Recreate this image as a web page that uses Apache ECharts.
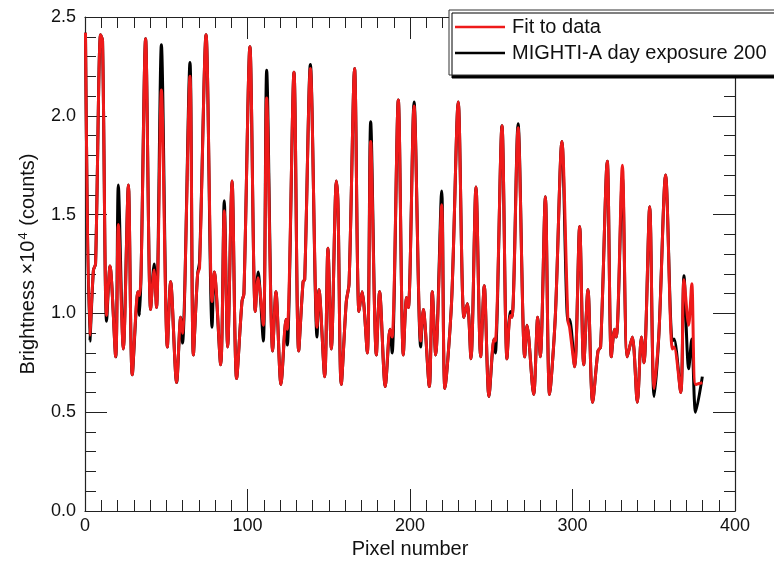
<!DOCTYPE html>
<html>
<head>
<meta charset="utf-8">
<script src="https://cdn.jsdelivr.net/npm/echarts@6/dist/echarts.min.js"></script>
<style>
html,body{margin:0;padding:0;background:#fff;}
#chart{width:774px;height:566px;}
</style>
</head>
<body>
<div id="chart"></div>
<script>
// Pixel positions of key samples (pixel number)
const pixels = [0.3,3.0,5.2,6.5,9.6,10.8,13.3,15.4,18.9,20.5,23.6,26.7,29.1,32.6,33.5,34.5,37.3,40.4,42.5,44.0,47.0,50.7,52.7,56.4,58.9,60.0,64.6,66.7,69.3,70.5,74.5,78.2,79.6,83.5,85.7,87.8,90.5,93.3,96.6,97.8,101.5,104.8,106.5,109.7,111.8,115.5,117.5,120.6,123.7,124.5,128.6,131.5,134.2,135.2,138.7,142.8,144.0,147.5,149.5,151.6,154.7,155.7,157.7,160.8,162.5,165.9,168.6,170.5,173.7,175.8,179.3,181.3,184.8,187.7,189.0,192.8,195.9,197.9,199.0,202.5,206.6,208.2,211.9,213.7,215.8,219.5,221.5,225.6,229.7,233.2,235.3,237.5,240.6,243.5,245.7,248.6,251.7,252.5,256.6,259.7,261.7,262.8,266.5,270.6,272.0,276.1,278.6,280.2,283.3,285.9,289.4,293.5,297.2,298.2,301.3,304.4,306.9,309.5,312.4,315.7,317.3,321.4,323.9,325.9,327.0,330.7,333.7,336.8,339.9,342.4,344.0,347.5,350.2,353.2,357.3,361.4,362.5,366.6,368.6,371.5,373.4,375.8,379.9];
// MIGHTI-A day exposure 200 (brightness x10^4 counts)
const measured = [2.42,0.86,1.22,1.25,2.41,2.38,0.96,1.24,0.78,1.65,0.82,1.65,0.69,1.11,0.99,1.20,2.39,1.02,1.25,1.03,2.36,0.83,1.16,0.65,0.98,0.85,2.27,0.79,1.20,1.26,2.41,0.93,1.21,0.74,1.57,0.83,1.67,0.67,1.06,1.10,2.35,1.01,1.21,0.86,2.23,0.81,1.11,0.64,0.97,0.84,2.22,0.81,1.16,1.17,2.26,0.88,1.12,0.68,1.33,0.82,1.67,1.55,0.64,1.06,1.15,2.24,1.01,1.11,0.80,1.97,0.79,1.11,0.63,0.92,0.80,2.08,0.79,1.08,1.03,2.07,0.83,1.02,0.63,1.11,0.79,1.62,0.62,1.06,2.07,0.98,1.05,0.77,1.64,0.78,1.14,0.58,0.87,0.80,1.95,0.77,1.01,0.98,1.96,0.78,0.94,0.59,0.98,0.78,1.59,0.59,0.98,1.87,0.96,0.97,0.73,1.44,0.74,1.12,0.55,0.81,0.83,1.77,0.78,0.92,0.88,1.69,0.78,0.88,0.55,0.88,0.75,1.54,0.58,0.90,1.70,0.86,0.87,0.60,1.19,0.72,0.87,0.50,0.68];
// Fit to data
const fitted = [2.42,0.89,1.22,1.25,2.41,2.38,0.99,1.24,0.78,1.45,0.82,1.65,0.69,1.11,1.09,1.20,2.39,1.02,1.22,1.03,2.13,0.83,1.16,0.65,0.98,0.90,2.20,0.79,1.20,1.23,2.41,1.06,1.21,0.74,1.52,0.83,1.67,0.67,1.06,1.10,2.35,1.01,1.18,0.94,2.09,0.81,1.11,0.64,0.97,0.92,2.22,0.81,1.16,1.17,2.24,0.93,1.12,0.68,1.33,0.82,1.67,1.55,0.64,1.06,1.15,2.24,1.01,1.11,0.80,1.87,0.79,1.11,0.63,0.92,0.88,2.08,0.79,1.08,1.03,2.05,0.86,1.02,0.63,1.11,0.79,1.55,0.62,1.06,2.07,0.98,1.05,0.77,1.64,0.78,1.14,0.58,0.87,0.86,1.95,0.77,0.99,0.98,1.94,0.78,0.94,0.59,0.98,0.78,1.59,0.59,0.98,1.87,0.96,0.93,0.73,1.44,0.74,1.12,0.55,0.81,0.83,1.77,0.78,0.92,0.88,1.75,0.78,0.88,0.55,0.88,0.75,1.54,0.62,0.90,1.70,0.82,0.83,0.60,1.17,0.94,1.15,0.64,0.65];
const xTicks = [0,100,200,300,400];
const yTicks = [0.0,0.5,1.0,1.5,2.0,2.5];

const FONT = '"Liberation Sans", Arial, Helvetica, sans-serif';
const measuredPts = pixels.map((p,i)=>[p, measured[i]]);
const fittedPts = pixels.map((p,i)=>[p, fitted[i]]);

const tickCommon = {inside:true, length:22, lineStyle:{color:'#222', width:1}};
const minorCommon = {show:true, length:11, lineStyle:{color:'#222', width:1}};
const lineCommon = {show:true, onZero:false, lineStyle:{color:'#222', width:1.2}};

const chart = echarts.init(document.getElementById('chart'), null, {renderer:'canvas'});
chart.setOption({
  animation:false,
  backgroundColor:'#fff',
  grid:{left:85, right:39, top:17, bottom:55},
  legend:{
    left:449, top:10, orient:'vertical',
    data:[{name:'Fit to data', icon:'rect'},{name:'MIGHTI-A day exposure 200', icon:'rect'}],
    itemWidth:50, itemHeight:2.5, itemGap:2,
    padding:[5,10,10,6],
    backgroundColor:'#fff', borderColor:'#333', borderWidth:1,
    shadowColor:'#000', shadowBlur:0, shadowOffsetX:3, shadowOffsetY:3,
    textStyle:{fontFamily:FONT, fontSize:20, color:'#111', lineHeight:24, padding:[0,0,0,2]}
  },
  xAxis:[{
    type:'value', min:xTicks[0], max:xTicks[xTicks.length-1], interval:100, position:'bottom',
    axisLine:lineCommon, axisTick:tickCommon, minorTick:Object.assign({splitNumber:10}, minorCommon),
    splitLine:{show:false},
    axisLabel:{fontFamily:FONT, fontSize:18, color:'#111', margin:6},
    name:'Pixel number', nameLocation:'middle', nameGap:27,
    nameTextStyle:{fontFamily:FONT, fontSize:20, color:'#111'}
  },{
    type:'value', min:xTicks[0], max:xTicks[xTicks.length-1], interval:100, position:'top',
    axisLine:lineCommon, axisTick:tickCommon, minorTick:Object.assign({splitNumber:10}, minorCommon),
    splitLine:{show:false}, axisLabel:{show:false}
  }],
  yAxis:[{
    type:'value', min:yTicks[0], max:yTicks[yTicks.length-1], interval:0.5, position:'left',
    axisLine:lineCommon, axisTick:tickCommon, minorTick:Object.assign({splitNumber:5}, minorCommon),
    splitLine:{show:false},
    axisLabel:{fontFamily:FONT, fontSize:18, color:'#111', margin:9, formatter:v=>v.toFixed(1)},
    name:'Brightness ×10{sup|4} (counts)', nameLocation:'middle', nameGap:46, nameRotate:90,
    nameTextStyle:{fontFamily:FONT, fontSize:20, color:'#111', lineHeight:22,
      rich:{sup:{fontFamily:FONT, fontSize:13, color:'#111', lineHeight:22, verticalAlign:'top', padding:[0,1,0,1]}}}
  },{
    type:'value', min:yTicks[0], max:yTicks[yTicks.length-1], interval:0.5, position:'right',
    axisLine:lineCommon, axisTick:tickCommon, minorTick:Object.assign({splitNumber:5}, minorCommon),
    splitLine:{show:false}, axisLabel:{show:false}
  }],
  series:[{
    name:'MIGHTI-A day exposure 200', type:'line', data:measuredPts,
    xAxisIndex:0, yAxisIndex:0, showSymbol:false, symbol:'none', smooth:0.3,
    lineStyle:{color:'#000', width:3}, itemStyle:{color:'#000'}, z:2
  },{
    name:'Fit to data', type:'line', data:fittedPts,
    xAxisIndex:0, yAxisIndex:0, showSymbol:false, symbol:'none', smooth:0.3,
    lineStyle:{color:'#ee1a1a', width:3}, itemStyle:{color:'#ee1a1a'}, z:3
  }]
});
</script>
</body>
</html>
